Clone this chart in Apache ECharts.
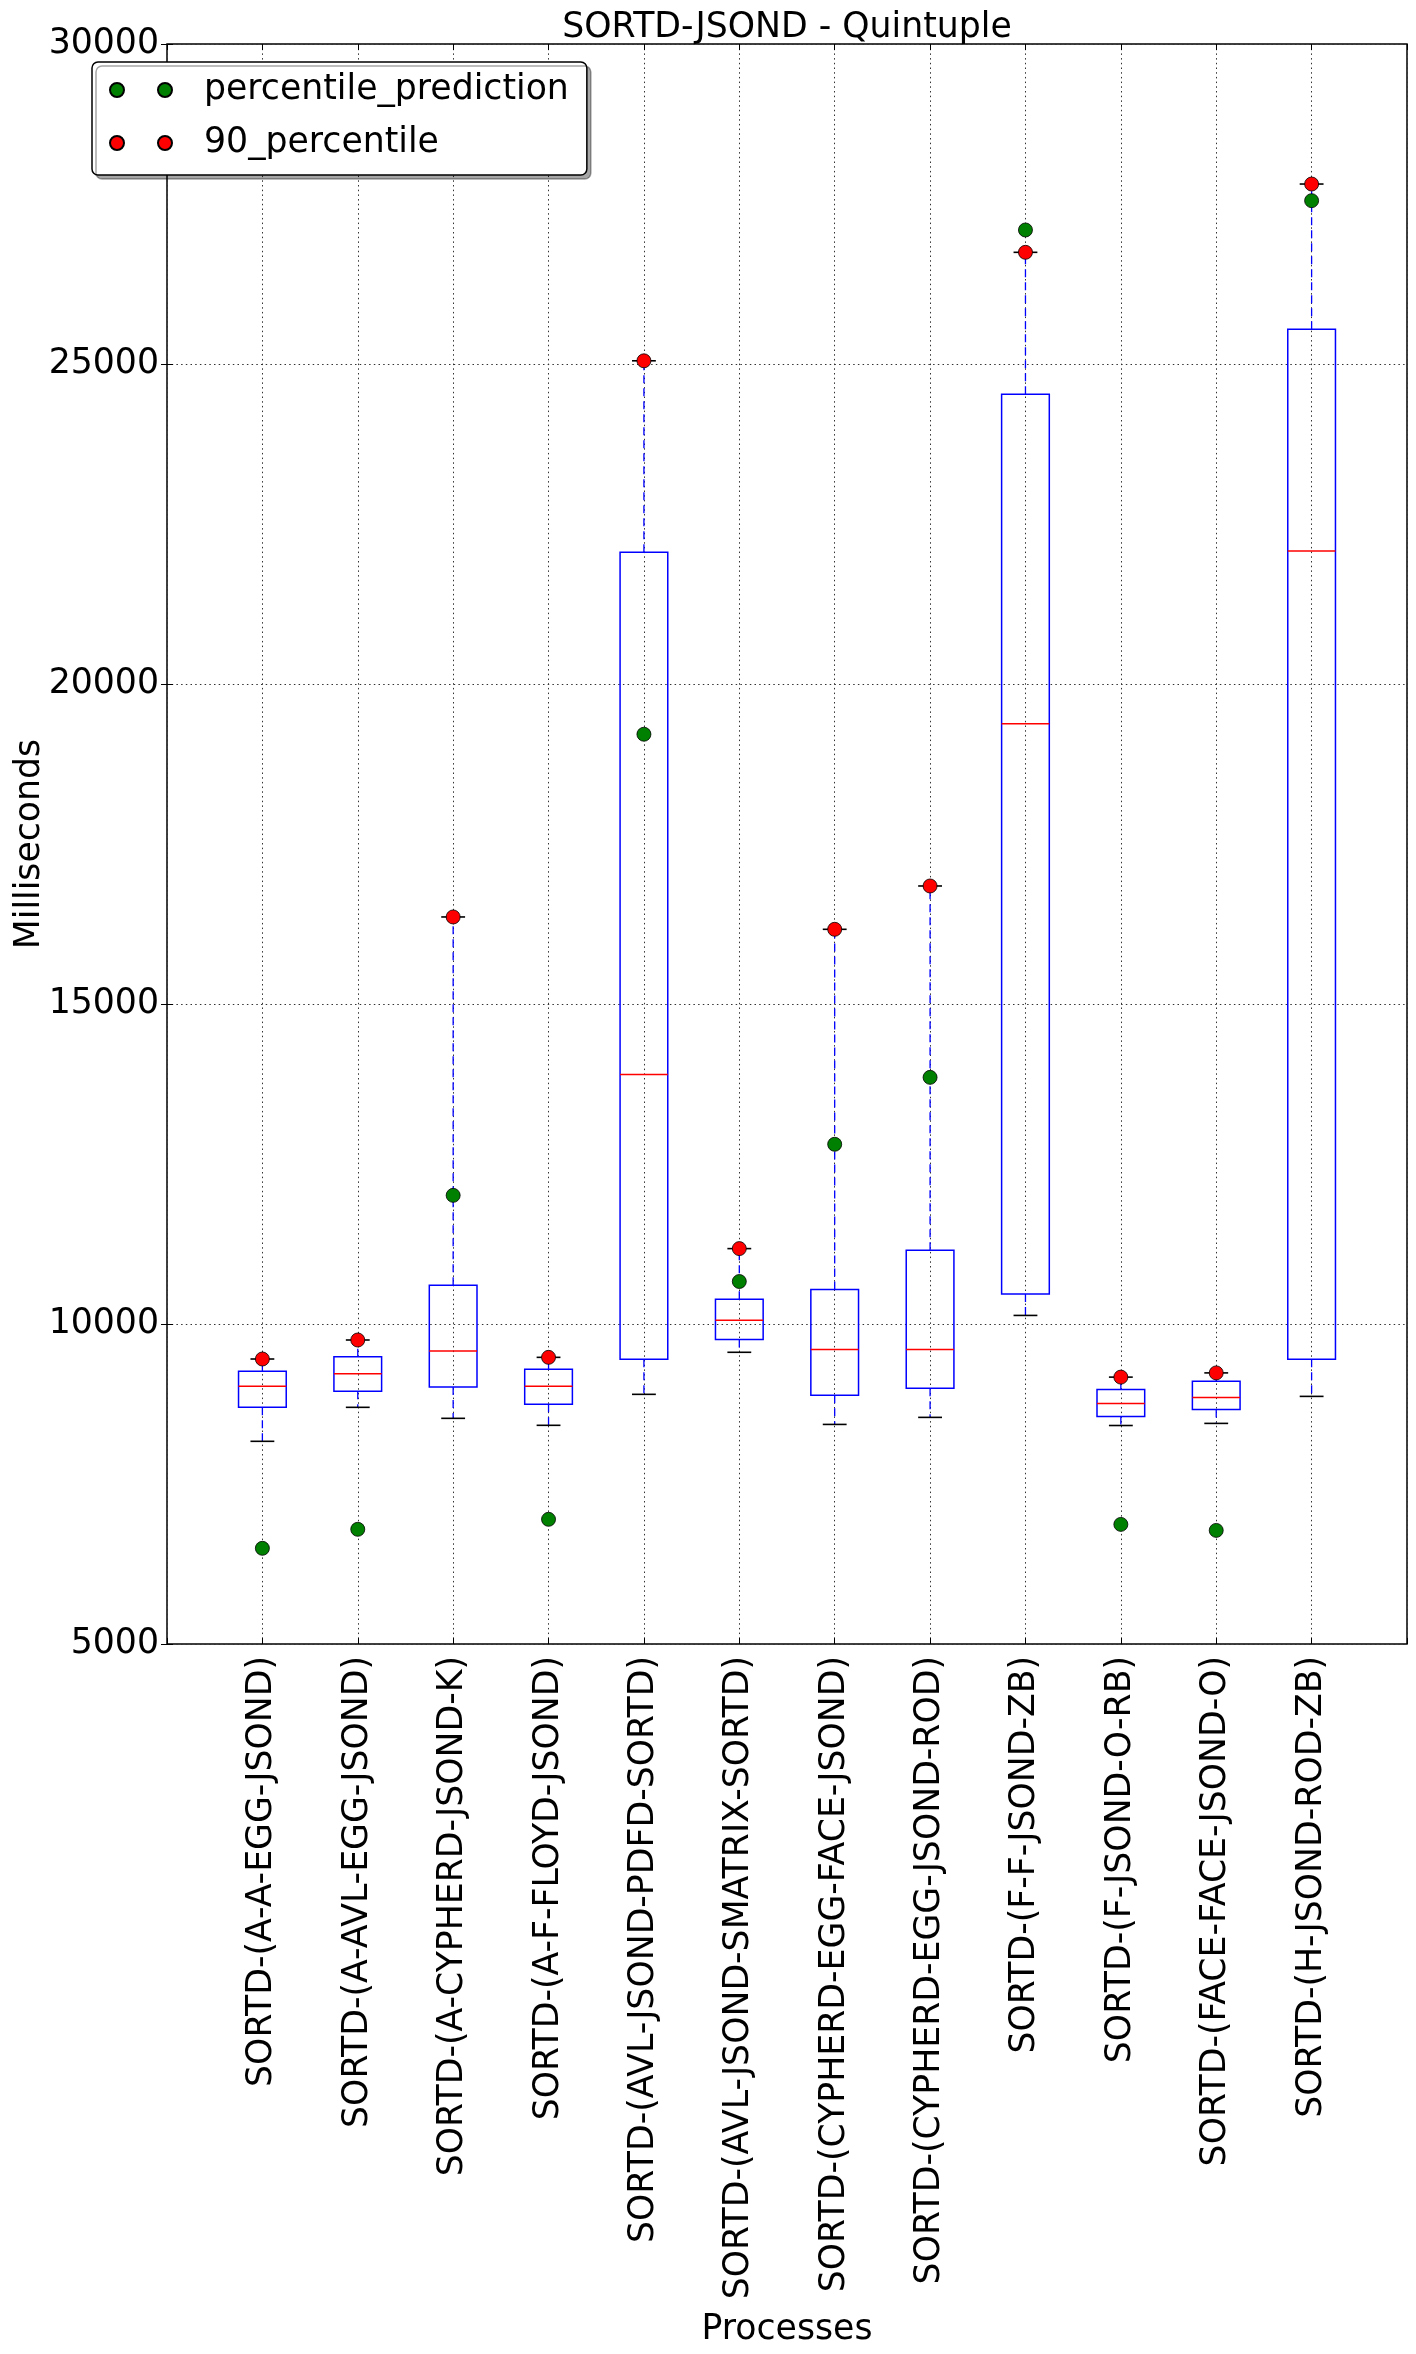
<!DOCTYPE html>
<html>
<head>
<meta charset="utf-8">
<script src="https://cdn.jsdelivr.net/npm/echarts@6/dist/echarts.min.js"></script>
<style>
html,body{margin:0;padding:0;background:#fff;}
#chart{width:1416px;height:2354px;}
</style>
</head>
<body>
<div id="chart"></div>
<script>
// ---- data ----
const categories = [
  'SORTD-(A-A-EGG-JSOND)',
  'SORTD-(A-AVL-EGG-JSOND)',
  'SORTD-(A-CYPHERD-JSOND-K)',
  'SORTD-(A-F-FLOYD-JSOND)',
  'SORTD-(AVL-JSOND-PDFD-SORTD)',
  'SORTD-(AVL-JSOND-SMATRIX-SORTD)',
  'SORTD-(CYPHERD-EGG-FACE-JSOND)',
  'SORTD-(CYPHERD-EGG-JSOND-ROD)',
  'SORTD-(F-F-JSOND-ZB)',
  'SORTD-(F-JSOND-O-RB)',
  'SORTD-(FACE-FACE-JSOND-O)',
  'SORTD-(H-JSOND-ROD-ZB)'
];
const whiskerLow = [8167, 8698, 8526, 8417, 8901, 9558, 8431, 8541, 10134, 8414, 8447, 8869];
const q1Values   = [8698, 8948, 9016, 8745, 9448, 9758, 8886, 8995, 10469, 8556, 8666, 9450];
const medians    = [9026, 9224, 9578, 9026, 13900, 10058, 9603, 9603, 19378, 8759, 8853, 22078];
const q3Values   = [9260, 9490, 10604, 9292, 22057, 10388, 10541, 11152, 24527, 8978, 9105, 25542];
const whiskerHigh= [9453, 9750, 16360, 9479, 25050, 11178, 16167, 16844, 26745, 9170, 9236, 27812];
const percentilePrediction = [6495, 6792, 12010, 6948, 19215, 10664, 12808, 13854, 27094, 6869, 6775, 27552];
const percentile90 = [9453, 9750, 16360, 9479, 25050, 11178, 16167, 16844, 26745, 9170, 9236, 27812];
const yTicks = [5000, 10000, 15000, 20000, 25000, 30000];

const FONT = 'DejaVu Sans';
const FS = 34.7;
const BOX_W = 0.5, CAP_W = 0.25;

const boxData = categories.map((c, i) => [i + 1, whiskerLow[i], q1Values[i], medians[i], q3Values[i], whiskerHigh[i]]);
const predData = categories.map((c, i) => [i + 1, percentilePrediction[i]]);
const p90Data = categories.map((c, i) => [i + 1, percentile90[i]]);

function renderBox(params, api) {
  const x = api.value(0);
  const lo = api.coord([x, api.value(1)]);
  const q1 = api.coord([x, api.value(2)]);
  const md = api.coord([x, api.value(3)]);
  const q3 = api.coord([x, api.value(4)]);
  const hi = api.coord([x, api.value(5)]);
  const bw = api.size([BOX_W, 0])[0];
  const cw = api.size([CAP_W, 0])[0];
  const cx = lo[0];
  const blue = {stroke: '#0000ff', lineWidth: 1.5, fill: null};
  const dashed = {stroke: '#0000ff', lineWidth: 1.3, lineDash: [8, 5]};
  const cap = {stroke: '#000', lineWidth: 1.6};
  return {
    type: 'group',
    children: [
      {type: 'line', shape: {x1: cx, y1: q3[1], x2: cx, y2: hi[1]}, style: dashed},
      {type: 'line', shape: {x1: cx, y1: q1[1], x2: cx, y2: lo[1]}, style: dashed},
      {type: 'line', shape: {x1: cx - cw / 2, y1: hi[1], x2: cx + cw / 2, y2: hi[1]}, style: cap},
      {type: 'line', shape: {x1: cx - cw / 2, y1: lo[1], x2: cx + cw / 2, y2: lo[1]}, style: cap},
      {type: 'rect', shape: {x: cx - bw / 2, y: q3[1], width: bw, height: q1[1] - q3[1]}, style: blue},
      {type: 'line', shape: {x1: cx - bw / 2, y1: md[1], x2: cx + bw / 2, y2: md[1]}, style: {stroke: '#ff0000', lineWidth: 1.5}}
    ]
  };
}

const dotted = {color: '#333', width: 1, type: [1.5, 3.2]};
const chart = echarts.init(document.getElementById('chart'), null, {renderer: 'canvas'});
chart.setOption({
  backgroundColor: '#fff',
  animation: false,
  textStyle: {fontFamily: FONT},
  title: {
    text: 'SORTD-JSOND - Quintuple',
    left: 787, top: 10, textAlign: 'center', padding: 0,
    textStyle: {fontFamily: FONT, fontSize: FS, fontWeight: 'normal', color: '#000'}
  },
  legend: {
    orient: 'vertical',
    left: 92, top: 62,
    padding: [8, 18, 12, 17],
    itemGap: 13,
    itemWidth: 62, itemHeight: 14,
    icon: 'path://M0,7a7,7 0 1,0 14,0a7,7 0 1,0 -14,0zM48,7a7,7 0 1,0 14,0a7,7 0 1,0 -14,0z',
    backgroundColor: '#fff',
    borderColor: '#000', borderWidth: 1.5, borderRadius: 6,
    shadowColor: 'rgba(0,0,0,0.35)', shadowOffsetX: 4, shadowOffsetY: 4, shadowBlur: 0,
    textStyle: {fontFamily: FONT, fontSize: FS, color: '#000', lineHeight: 40, padding: [0, 0, 0, 27]},
    data: ['percentile_prediction', '90_percentile']
  },
  grid: {left: 167, right: 9, top: 44, bottom: 710, containLabel: false, outerBoundsMode: 'none',
         show: true, borderColor: '#000', borderWidth: 1.5, backgroundColor: 'transparent'},
  xAxis: [{
    type: 'value', min: 0, max: categories.length + 1, interval: 1,
    name: 'Processes', nameLocation: 'middle', nameGap: 668,
    nameTextStyle: {fontFamily: FONT, fontSize: FS, color: '#000'},
    axisLine: {show: false},
    axisTick: {show: true, inside: true, length: 6, lineStyle: {color: '#000', width: 1}},
    splitLine: {show: true, lineStyle: dotted},
    axisLabel: {
      rotate: 90, margin: 12, fontFamily: FONT, fontSize: FS, color: '#000',
      formatter: v => (Number.isInteger(v) && v >= 1 && v <= categories.length) ? categories[v - 1] : ''
    }
  }, {
    type: 'value', position: 'top', min: 0, max: categories.length + 1, interval: 1,
    axisLine: {show: false}, axisLabel: {show: false}, splitLine: {show: false},
    axisTick: {show: true, inside: true, length: 6, lineStyle: {color: '#000', width: 1}}
  }],
  yAxis: [{
    type: 'value', min: yTicks[0], max: yTicks[yTicks.length - 1], interval: 5000,
    name: 'Milliseconds', nameLocation: 'middle', nameGap: 120, nameRotate: 90, nameMoveOverlap: false,
    nameTextStyle: {fontFamily: FONT, fontSize: FS, color: '#000'},
    axisLine: {show: false},
    axisTick: {show: true, inside: true, length: 6, lineStyle: {color: '#000', width: 1}},
    splitLine: {show: true, lineStyle: dotted},
    axisLabel: {margin: 8, fontFamily: FONT, fontSize: FS, color: '#000', formatter: v => String(v)}
  }, {
    type: 'value', position: 'right', min: yTicks[0], max: yTicks[yTicks.length - 1], interval: 5000,
    axisLine: {show: false}, axisLabel: {show: false}, splitLine: {show: false},
    axisTick: {show: true, inside: true, length: 6, lineStyle: {color: '#000', width: 1}}
  }],
  series: [{
    type: 'custom',
    name: 'box',
    renderItem: renderBox,
    encode: {x: 0, y: [1, 2, 3, 4, 5]},
    data: boxData,
    z: 2
  }, {
    type: 'scatter',
    name: 'percentile_prediction',
    symbol: 'circle', symbolSize: 14,
    itemStyle: {color: '#008000', borderColor: '#000', borderWidth: 0.8, opacity: 1},
    data: predData,
    z: 3
  }, {
    type: 'scatter',
    name: '90_percentile',
    symbol: 'circle', symbolSize: 14,
    itemStyle: {color: '#ff0000', borderColor: '#000', borderWidth: 0.8, opacity: 1},
    data: p90Data,
    z: 4
  }]
});
</script>
</body>
</html>
